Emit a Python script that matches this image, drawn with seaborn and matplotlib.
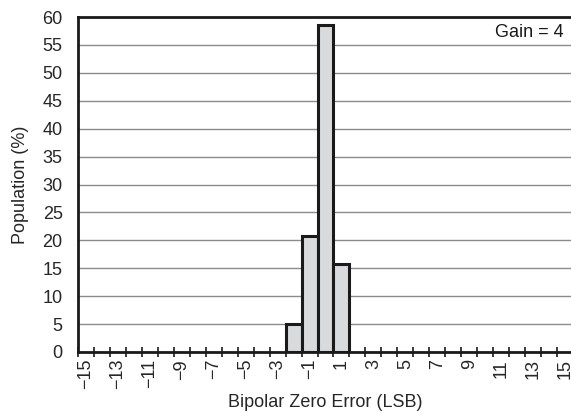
import numpy as np
import pandas as pd
import matplotlib
matplotlib.use("Agg")
import matplotlib.pyplot as plt
import seaborn as sns

# bipolar zero error histogram, gain = 4
error_lsb = [-2, -1, 0, 1]
population = [5.0, 20.7, 58.5, 15.8]
xtick_labels = list(range(-15, 16, 2))
ytick_values = list(range(0, 61, 5))

df = pd.DataFrame({"error": error_lsb, "pop": population})

sns.set_style("white")
plt.rcParams['font.family'] = ['Liberation Sans', 'DejaVu Sans']

fig = plt.figure(figsize=(5.71, 4.13), dpi=100)
ax = fig.add_axes([0.1366, 0.1477, 0.8669, 0.8111])

ax.grid(axis='y', color='#8a8a8a', linewidth=1.0, zorder=0)
ax.set_axisbelow(True)

sns.histplot(data=df, x="error", weights="pop", discrete=True,
             color='#d9dadc', edgecolor='#1a1a1a', linewidth=2.2,
             alpha=1, ax=ax, zorder=3)

ax.set_xlim(-15.5, 15.5)
ax.set_ylim(0, 60)

fs = 13

ax.set_xticks(xtick_labels)
ax.set_xticklabels([str(v).replace('-', '\u2212') for v in xtick_labels],
                   rotation=90, fontsize=fs)
ax.set_xticks(np.arange(-15.5, 16, 1), minor=True)
ax.tick_params(axis='x', which='major', length=0, pad=5)
ax.tick_params(axis='x', which='minor', direction='inout', length=7,
               width=1.2, color='#1a1a1a', bottom=True)

ax.set_yticks(ytick_values)
ax.set_yticklabels([str(v) for v in ytick_values], fontsize=fs)
ax.tick_params(axis='y', length=0, pad=11)

for side in ['left', 'bottom', 'top']:
    ax.spines[side].set_visible(True)
    ax.spines[side].set_color('#1a1a1a')
    ax.spines[side].set_linewidth(2.0)
ax.spines['right'].set_visible(False)

ax.set_xlabel("Bipolar Zero Error (LSB)", fontsize=fs, labelpad=3)
ax.set_ylabel("Population (%)", fontsize=fs, labelpad=10)

ax.text(14.9, 57.2, "Gain = 4", ha='right', va='center', fontsize=fs,
        color='#1a1a1a')

fig.savefig("out.png", dpi=100)
